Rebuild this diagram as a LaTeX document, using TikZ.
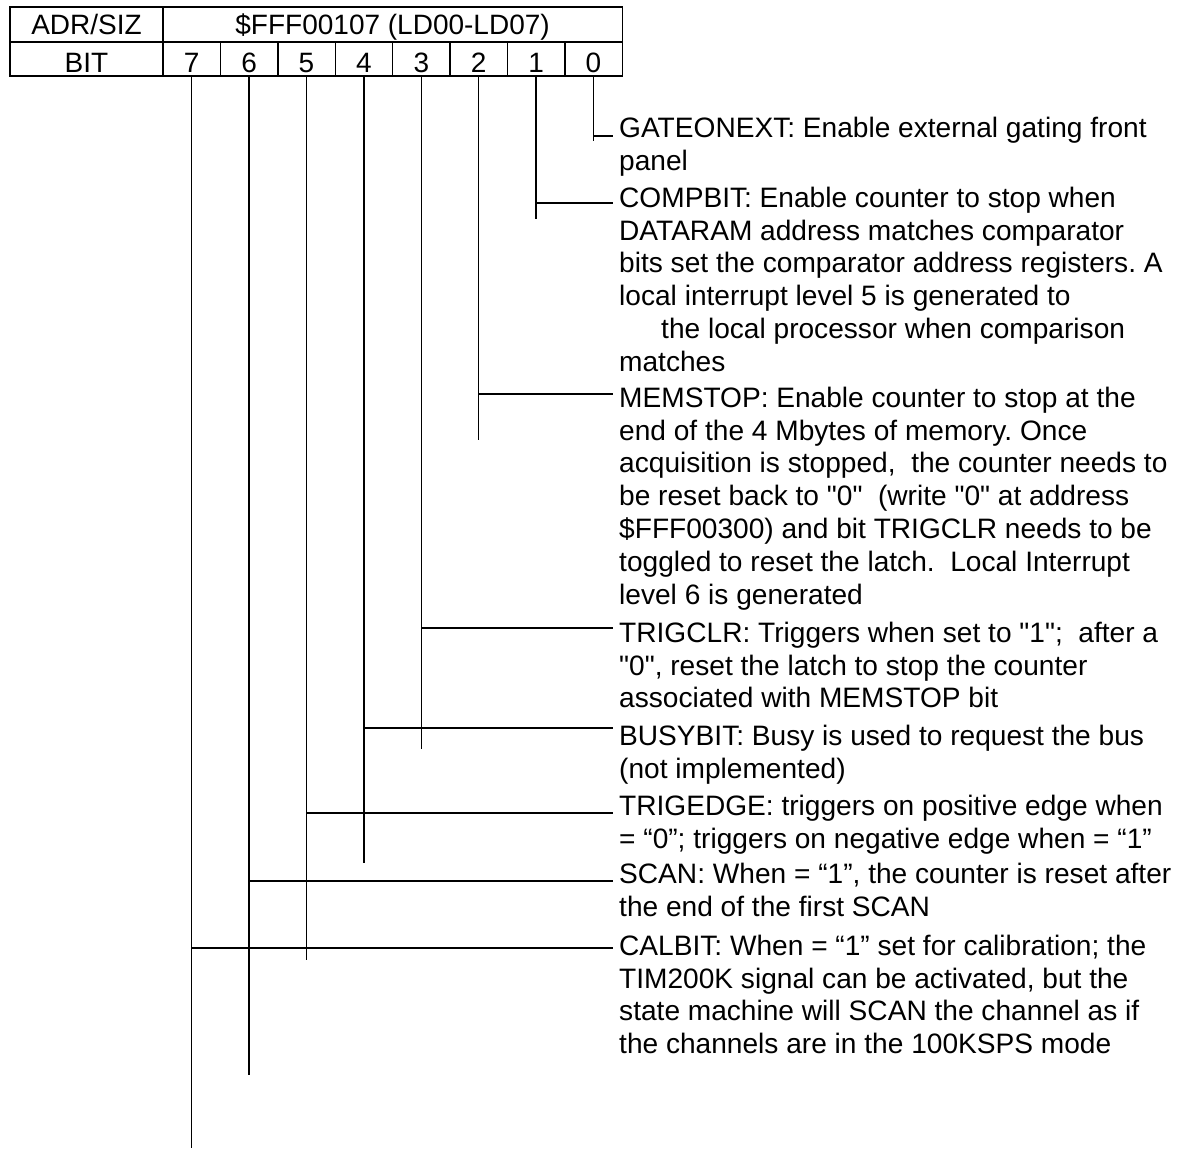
\documentclass[tikz,border=0pt]{standalone}
\usepackage{fontspec}
\newfontfamily\descfont{Liberation Sans}
\newcommand\firststrut{\rule{0pt}{24pt}}
\begin{document}
\frenchspacing
\begin{tikzpicture}[x=1pt,y=-1pt,
  cell/.style={draw, line width=1.4pt, inner sep=0pt, font=\descfont\fontsize{28}{32.8}\selectfont},
  toprow/.style={cell, minimum height=35pt, text height=24pt, text depth=3pt},
  botrow/.style={cell, minimum height=34pt, text height=26pt, text depth=0pt},
  lead/.style={line width=1.3pt},
  desc/.style={anchor=north west, inner sep=0pt, align=left, font=\descfont\fontsize{28.1}{32.8}\selectfont}]
\useasboundingbox (0,0) rectangle (1180,1148);
% register table
\node[toprow, minimum width=153pt] (adr) at (86.5,24.5) {ADR/SIZ};
\node[toprow, minimum width=459.2pt] (addr) at (392.6,24.5) {\$FFF00107 (LD00-LD07)};
\node[botrow, minimum width=153pt] (bitlbl) at (86.5,59) {BIT};
\foreach \b/\x in {7/191.7,6/249.1,5/306.5,4/363.9,3/421.3,2/478.7,1/536.1,0/593.5}
  \node[botrow, minimum width=57.4pt] (b\b) at (\x,59) {\b};
% leaders
\foreach \b/\h/\e in {0/136/141,1/203/219,2/394/440,3/628/749,4/728/863,5/813/960,6/881/1075,7/948/1148} {
  \coordinate (h\b) at (613,\h);
  \coordinate (e\b) at (0,\e);
  \draw[lead] (b\b.south) -- (b\b.south |- e\b);
  \draw[lead] (b\b.south |- h\b) -- (h\b);
}
% descriptions
\node[desc] (d0) at (619,113) {\firststrut GATEONEXT: Enable external gating front\\panel};
\node[desc] (d1) at (619,183) {\firststrut COMPBIT: Enable counter to stop when\\DATARAM address matches comparator\\bits set the comparator address registers. A\\local interrupt level 5 is generated to\\\hspace*{42pt}the local processor when comparison\\matches};
\node[desc] (d2) at (619,383) {\firststrut MEMSTOP: Enable counter to stop at the\\end of the 4 Mbytes of memory. Once\\acquisition is stopped,\ \ the counter needs to\\be reset back to "0"\ \ (write "0" at address\\\$FFF00300) and bit TRIGCLR needs to be\\toggled to reset the latch.\ \ Local Interrupt\\level 6 is generated};
\node[desc] (d3) at (619,618) {\firststrut TRIGCLR: Triggers when set to "1";\ \ after a\\"0", reset the latch to stop the counter\\associated with MEMSTOP bit};
\node[desc] (d4) at (619,721) {\firststrut BUSYBIT: Busy is used to request the bus\\(not implemented)};
\node[desc] (d5) at (619,791) {\firststrut TRIGEDGE: triggers on positive edge when\\= “0”; triggers on negative edge when = “1”};
\node[desc] (d6) at (619,859) {\firststrut SCAN: When = “1”, the counter is reset after\\the end of the first SCAN};
\node[desc] (d7) at (619,931) {\firststrut CALBIT: When = “1” set for calibration; the\\TIM200K signal can be activated, but the\\state machine will SCAN the channel as if\\the channels are in the 100KSPS mode};
\end{tikzpicture}
\end{document}
